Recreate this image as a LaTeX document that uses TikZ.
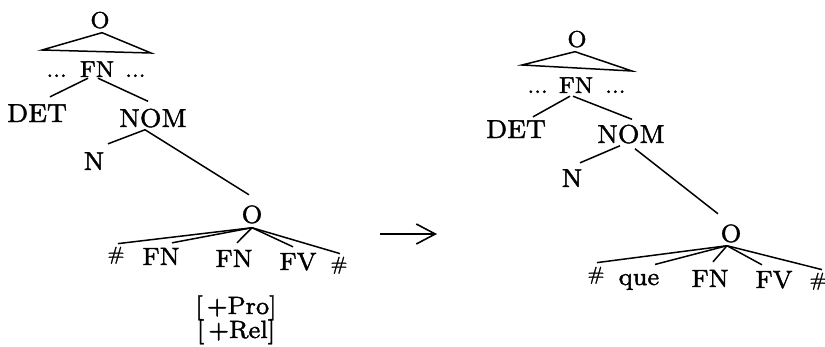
\documentclass[tikz,border=0pt]{standalone}
\usepackage{fontspec}
\setmainfont{lmroman8-regular.otf}[FakeBold=1.5]
\usetikzlibrary{arrows.meta,calc}

\tikzset{
  lab/.style={font=\fontsize{26}{28}\selectfont, inner sep=1pt, anchor=base},
  labtop/.style={lab, font=\fontsize{23}{25}\selectfont},
  lablow/.style={lab, font=\fontsize{25}{27}\selectfont},
  hsh/.style={lab, font=\fontsize{19}{21}\selectfont},
  brl/.style={line width=1.5pt},
}

\begin{document}
\begin{tikzpicture}[x=1pt,y=-1pt]
  \useasboundingbox (0,0) rectangle (825,346);
  % Left: tree before the transformation.
  \node[labtop] (o1) at (100,28) {O};
  \coordinate (bl1) at (42,50);
  \coordinate (br1) at (151,53);
  \draw[brl] ($(o1.south)+(2,3)$) -- (bl1) -- (br1) -- cycle;
  \node[labtop] (fnA) at (97,77) {FN};
  \node[labtop, anchor=base east] (dotsA1) at (68,77) {...};
  \node[labtop, anchor=base west] (dotsA2) at (124,77) {...};
  \node[lab] (det1) at (37,122) {DET};
  \node[lab] (nom1) at (153,127) {NOM};
  \node[lab] (n1) at (94,170) {N};
  \draw[brl] ($(fnA.south)+(-9,0)$) -- ($(det1.north)+(13,-6.2)$);
  \draw[brl] ($(fnA.south)+(1,0)$) -- ($(nom1.north)+(-5,-6.2)$);
  \draw[brl] ($(nom1.south)+(-8,1)$) -- ($(n1.north)+(14,-7.2)$);
  % embedded clause
  \node[lablow] (o2) at (252,223) {O};
  \draw[brl] ($(nom1.south)+(-8,1)$) -- ($(o2.north)+(-3,-9.4)$);
  \node[hsh] (hashL) at (116,260) {\#};
  \node[lablow] (fnB) at (161,265) {FN};
  \node[lablow] (fnC) at (234,267) {FN};
  \node[lablow] (fv1) at (298,270) {FV};
  \node[hsh] (hashR) at (339,270) {\#};
  \draw[brl] ($(o2.south)+(0,3)$) -- ($(hashL.north)+(2,-2)$);
  \draw[brl] ($(o2.south)+(0,3)$) -- ($(fnB.north)+(11,-3.9)$);
  \draw[brl] ($(o2.south)+(0,3)$) -- ($(fnC.north)+(3,-5.9)$);
  \draw[brl] ($(o2.south)+(0,3)$) -- ($(fv1.north)+(-5,-4.9)$);
  \draw[brl] ($(o2.south)+(0,3)$) -- ($(hashR.north)+(1,-2)$);
  \node[lablow] (pro) at (236,314) {[\,+Pro]};
  \node[lablow] (rel) at (236,338) {[\,+Rel]};
  % Arrow.
  \coordinate (arrS) at (380,234);
  \coordinate (arrE) at (437,234);
  \draw[line width=1.6pt, -{Straight Barb[length=19pt,width=20pt,line width=1.6pt]}] (arrS) -- (arrE);
  % Right: tree after the transformation.
  \node[labtop] (o3) at (577,47) {O};
  \coordinate (bl2) at (522,65);
  \coordinate (br2) at (632,71);
  \draw[brl] ($(o3.south)+(-2,3)$) -- (bl2) -- (br2) -- cycle;
  \node[labtop] (fnD) at (576,93) {FN};
  \node[labtop, anchor=base east] (dotsD1) at (549,93) {...};
  \node[labtop, anchor=base west] (dotsD2) at (604,93) {...};
  \node[lab] (det2) at (516,138) {DET};
  \node[lab] (nom2) at (631,143) {NOM};
  \node[lab] (n2) at (572,187) {N};
  \draw[brl] ($(fnD.south)+(-6,2)$) -- ($(det2.north)+(17,-2.2)$);
  \draw[brl] ($(fnD.south)+(-3,2)$) -- ($(nom2.north)+(1,-4.2)$);
  \draw[brl] ($(nom2.south)+(-11,1)$) -- ($(n2.north)+(8,-5.2)$);
  % embedded clause with que
  \node[lablow] (o4) at (731,242) {O};
  \draw[brl] ($(nom2.south)+(4,4)$) -- ($(o4.north)+(-13,-9.4)$);
  \node[hsh] (hash3) at (596,280) {\#};
  \node[lablow] (que) at (639,285) {que};
  \node[lablow] (fnE) at (710,287) {FN};
  \node[lablow] (fv2) at (774,288) {FV};
  \node[hsh] (hash4) at (818,286) {\#};
  \draw[brl] ($(o4.south)+(-4,2)$) -- ($(hash3.north)+(1,-3)$);
  \draw[brl] ($(o4.south)+(-4,2)$) -- ($(que.north)+(16,-8.2)$);
  \draw[brl] ($(o4.south)+(-4,2)$) -- ($(fnE.north)+(3,-6.9)$);
  \draw[brl] ($(o4.south)+(-4,2)$) -- ($(fv2.north)+(-12,-4.9)$);
  \draw[brl] ($(o4.south)+(-4,2)$) -- ($(hash4.north)+(4,-2)$);
\end{tikzpicture}
\end{document}
